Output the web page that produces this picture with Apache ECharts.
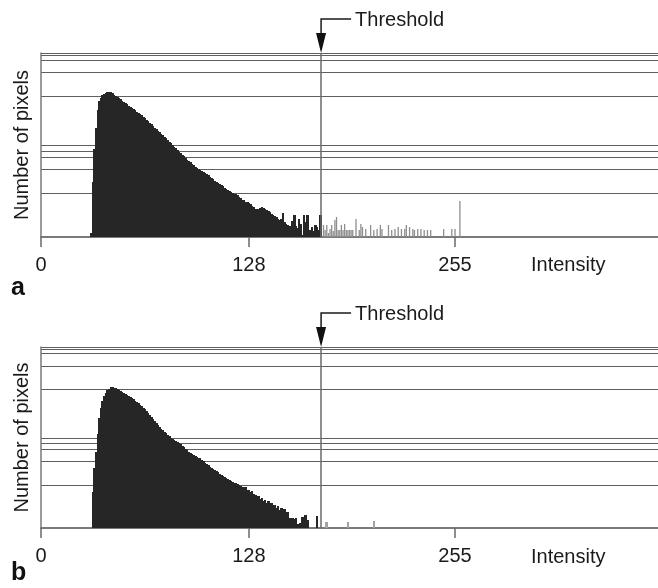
<!DOCTYPE html>
<html><head><meta charset="utf-8">
<script src="https://cdn.jsdelivr.net/npm/echarts@6/dist/echarts.min.js"></script>
<style>html,body{margin:0;padding:0;background:#fff}#c{width:658px;height:588px}</style>
</head><body><div id="c"></div>
<script>
// ---- data ----
const X_TICKS = [0, 128, 255];
const GRID_LEVELS = [237, 368, 433, 466, 498, 764, 896, 963, 989, 1000];
const THRESHOLD = 172.5;
const PANEL_LABELS = ['a', 'b'];
const AXIS_TITLE_X = 'Intensity';
const AXIS_TITLE_Y = 'Number of pixels';

// panel a: bins starting at intensity 31
const START_A = 31;
const COUNTS_A = [
 20,300,480,590,690,740,758,770,778,784, // 31-40
 790,789,786,781,774,768,761,755,748,741, // 41-50
 735,727,721,714,707,702,695,689,682,676, // 51-60
 669,661,654,646,638,630,622,613,604,594, // 61-70
 585,577,569,560,552,545,537,528,519,510, // 71-80
 500,491,481,472,463,455,446,438,430,421, // 81-90
 413,405,397,389,381,376,370,364,359,354, // 91-100
 349,342,335,328,321,314,307,300,294,288, // 101-110
 281,275,268,262,256,250,246,241,236,232, // 111-120
 226,218,210,203,199,192,188,184,179,170, // 121-130
 163,152,145,150,156,163,158,150,145,140, // 131-140
 137,126,118,114,110,98,90,100,130,80,    // 141-150
 72,64,58,45,88,120,60,50,100,70,         // 151-160
 10,120,80,120,10,40,54,30,63,55,         // 161-170
 40,120,0,64,36,64,20,45,64,30,           // 171-180
 90,110,36,36,64,36,70,36,36,36,          // 181-190
 36,36,0,100,0,36,68,54,0,45,             // 191-200
 0,0,64,0,36,0,45,0,64,45,                // 201-210
 0,0,0,64,0,36,0,45,0,54,                 // 211-220
 0,45,0,45,64,0,54,0,45,36,               // 221-230
 0,45,0,45,0,40,0,40,0,40,                // 231-240
 0,0,0,0,0,0,0,45,0,0,                    // 241-250
 0,0,45,0,45,0,0,194                      // 251-258
];

// panel b: bins starting at intensity 32
const START_B = 32;
const COUNTS_B = [
 200,330,420,520,610,665,700,728,748,       // 32-40
 760,770,777,778,776,773,769,764,758,752,   // 41-50
 747,741,735,729,723,717,710,703,696,688,   // 51-60
 680,672,664,655,646,636,625,614,603,592,   // 61-70
 580,568,556,548,540,532,524,516,507,500,   // 71-80
 493,487,481,475,469,462,454,446,438,430,   // 81-90
 422,417,411,405,399,393,388,384,376,368,   // 91-100
 361,353,346,338,332,326,320,313,307,300,   // 101-110
 294,288,282,276,270,265,260,255,250,246,   // 111-120
 241,237,232,226,220,224,212,208,198,204,   // 121-130
 186,180,172,178,160,168,150,156,138,148,   // 131-140
 128,136,118,126,108,120,100,112,90,105,    // 141-150
 78,86,55,50,58,48,55,20,0,30,              // 151-160
 60,0,70,45,0,0,0,0,0,65,                   // 161-170
 0,0,0,0,0,35,0,0,0,0,                      // 171-180
 0,0,0,0,0,0,0,0,35,0,                      // 181-190
 0,0,0,0,0,0,0,0,0,0,                       // 191-200
 0,0,0,0,40                                 // 201-205
];

// ---- styling ----
const DARK = '#262626';
const GREY_A = '#8e8e8e';
const GREY_B = '#a2a2a2';
const FONT = 'Liberation Sans, Arial, sans-serif';
const TXT = '#1a1a1a';

const grids = [
  {left: 41, right: 0, top: 53, height: 184},
  {left: 41, right: 0, top: 347, height: 181}
];

function toBars(start, counts, grey) {
  const out = [];
  counts.forEach((v, i) => {
    const x = start + i;
    if (v > 0) {
      out.push({value: [x, v], itemStyle: {color: x < THRESHOLD ? DARK : grey}});
    }
  });
  return out;
}

function xAxis(i) {
  return {
    type: 'value', gridIndex: i, min: 0, max: 380,
    axisLine: {show: true, lineStyle: {color: '#7a7a7a', width: 2}},
    axisTick: {show: true, customValues: X_TICKS, length: 10, lineStyle: {color: '#6a6a6a', width: 1.5}},
    axisLabel: {show: true, customValues: X_TICKS, fontSize: 20, color: TXT, fontFamily: FONT, margin: 18},
    splitLine: {show: false}
  };
}
function yAxis(i) {
  return {
    type: 'value', gridIndex: i, min: 0, max: 1000,
    name: AXIS_TITLE_Y, nameLocation: 'middle', nameGap: 9,
    nameTextStyle: {fontSize: 20, color: TXT, fontFamily: FONT},
    axisLine: {show: true, lineStyle: {color: '#7a7a7a', width: 1.5}},
    axisTick: {show: false, customValues: GRID_LEVELS},
    axisLabel: {show: false, customValues: GRID_LEVELS},
    splitLine: {show: true, lineStyle: {color: '#5f5f5f', width: 1.2}}
  };
}
// histogram bins drawn as rects spanning [x-0.5, x+0.5] in data units,
// snapped outward to whole pixels so neighbouring bins join without seams;
// bins past the threshold in panel a are drawn as thin spikes
function makeRender(thinAbove) {
  return function (params, api) {
    const x = api.value(0), y = api.value(1);
    const p0 = api.coord([x - 0.5, y]);
    const p1 = api.coord([x + 0.5, 0]);
    const y0 = Math.round(p0[1]), y1 = Math.round(p1[1]);
    let x0, w;
    if (thinAbove && x > THRESHOLD) {
      const c = api.coord([x, 0])[0];
      x0 = c - 0.65; w = 1.3;
    } else {
      x0 = Math.floor(p0[0]); w = Math.ceil(p1[0]) - x0;
    }
    return {
      type: 'rect',
      shape: {x: x0, y: y0, width: w, height: y1 - y0},
      style: {fill: api.visual('color'), stroke: null, lineWidth: 0}
    };
  };
}
function histSeries(i, start, counts, grey, thin) {
  return {
    type: 'custom', xAxisIndex: i, yAxisIndex: i, renderItem: makeRender(thin),
    encode: {x: 0, y: 1}, clip: true,
    data: toBars(start, counts, grey)
  };
}
function thresholdSeries(i) {
  return {
    type: 'line', xAxisIndex: i, yAxisIndex: i, data: [],
    markLine: {
      silent: true, symbol: 'none', label: {show: false},
      lineStyle: {color: '#6a6a6a', width: 1.5, type: 'solid'},
      data: [{xAxis: THRESHOLD}]
    }
  };
}

const chart = echarts.init(document.getElementById('c'), null, {renderer: 'canvas'});
chart.setOption({
  animation: false,
  backgroundColor: '#fff',
  grid: grids,
  xAxis: [xAxis(0), xAxis(1)],
  yAxis: [yAxis(0), yAxis(1)],
  series: [
    histSeries(0, START_A, COUNTS_A, GREY_A, true), thresholdSeries(0),
    histSeries(1, START_B, COUNTS_B, GREY_B, false), thresholdSeries(1)
  ]
});

// annotations placed from the axis scales
const labelY = [288, 573];
const intensityOff = [28, 29];
const g = [];
[0, 1].forEach(i => {
  const top = chart.convertToPixel({gridIndex: i}, [THRESHOLD, 1000]);
  const bot = chart.convertToPixel({gridIndex: i}, [0, 0]);
  const px = top[0], ty = top[1];
  g.push({type: 'polyline', shape: {points: [[px + 30, ty - 34], [px, ty - 34], [px, ty - 19]]},
          style: {stroke: '#1a1a1a', lineWidth: 1.5, fill: null}});
  g.push({type: 'polygon', shape: {points: [[px - 5, ty - 20], [px + 5, ty - 20], [px, ty]]},
          style: {fill: '#111'}});
  g.push({type: 'text', x: px + 34, y: ty - 33,
          style: {text: 'Threshold', font: '20px ' + FONT, fill: TXT, verticalAlign: 'middle', align: 'left'}});
  g.push({type: 'text', x: 531, y: bot[1] + intensityOff[i],
          style: {text: AXIS_TITLE_X, font: '20px ' + FONT, fill: TXT, verticalAlign: 'middle', align: 'left'}});
  g.push({type: 'text', x: 11, y: labelY[i],
          style: {text: PANEL_LABELS[i], font: 'bold 25px ' + FONT, fill: '#111', verticalAlign: 'middle', align: 'left'}});
});
chart.setOption({graphic: g});
</script>
</body></html>
